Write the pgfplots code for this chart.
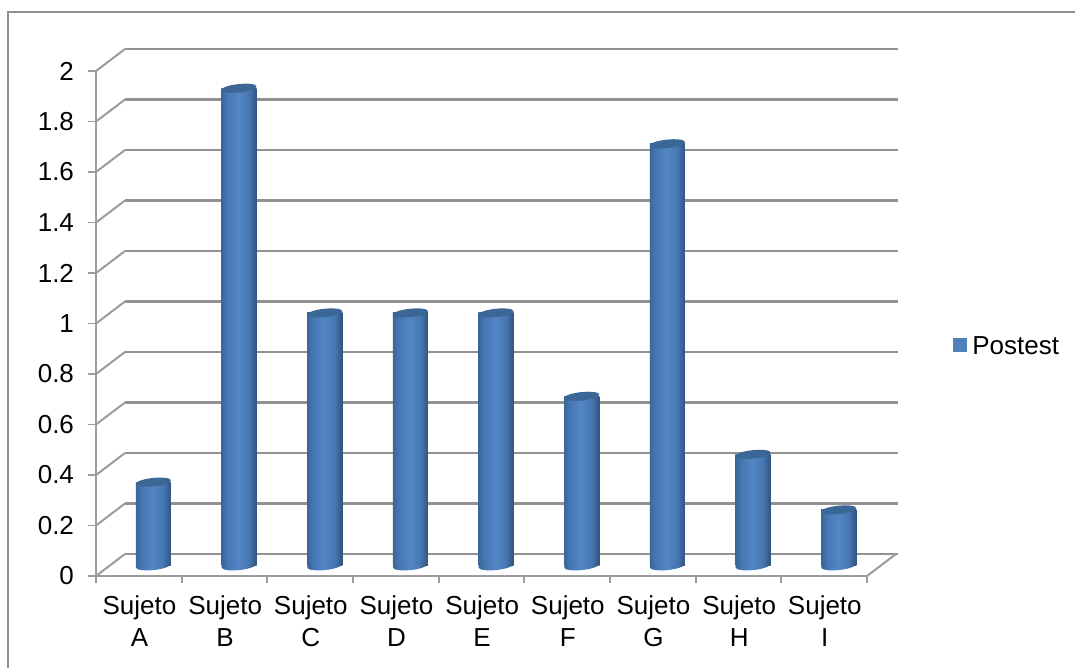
\documentclass[border=0pt]{standalone}
\usepackage{pgfplots}
\pgfplotsset{compat=1.18}
\usepackage{fontspec}
\setmainfont{Liberation Sans}
\definecolor{axisgray}{HTML}{9C9C9C}
\definecolor{gridgray}{HTML}{929292}
\definecolor{framegray}{HTML}{8F8F8F}
\definecolor{cyledgel}{HTML}{3A659A}
\definecolor{cyledger}{HTML}{31547C}
\definecolor{cylmid}{HTML}{4677B2}
\definecolor{cyllight}{HTML}{5386C6}
\definecolor{cyltop}{HTML}{3B6796}
\definecolor{legendblue}{HTML}{4F81BD}
\newdimen\pxu
\pxu=0.75pt
% Horizontal gradient across a cylinder
\pgfdeclarehorizontalshading{cylshade}{100bp}{
  color(0bp)=(cyledgel); color(25bp)=(cyledgel); color(33bp)=(cylmid);
  color(49bp)=(cyllight); color(64bp)=(cylmid); color(75bp)=(cyledger); color(100bp)=(cyledger)}
% Tilted elliptical caps of the cylinders
\pgfdeclareplotmark{cyltopcap}{%
  \pgfsetfillcolor{cyltop}%
  \pgftransformrotate{6}%
  \pgfpathellipse{\pgfpointorigin}{\pgfpoint{17.7\pxu}{0pt}}{\pgfpoint{0pt}{4.2\pxu}}%
  \pgfusepath{fill}}
\pgfdeclareplotmark{cylbasecap}{%
  \pgftransformrotate{6}%
  \pgfpathellipse{\pgfpointorigin}{\pgfpoint{17.7\pxu}{0pt}}{\pgfpoint{0pt}{4.6\pxu}}%
  \pgfshadepath{cylshade}{-6}%
  \pgfusepath{discard}}
% One cylinder body from the axis floor up to the score
\newcommand{\cylbody}[2]{%
  \addplot[forget plot,ybar,bar width=26.4pt,bar shift=0pt,draw=none,shade,shading=cylshade,
    xshift=10.9pt,yshift=7.9pt] coordinates {(#1,#2)};}
\begin{document}
\begin{tikzpicture}[x=1pt,y=1pt]
\path[use as bounding box] (-96*0.75,-92*0.75) rectangle (979*0.75,576*0.75);
\draw[framegray,line width=1.5pt] (-87.5*0.75,-92*0.75) -- (-87.5*0.75,564*0.75) -- (979*0.75,564*0.75);
\begin{axis}[
  at={(0,0)},anchor=south west,
  scale only axis,width=771*0.75pt,height=505*0.75pt,
  xmin=0,xmax=9,ymin=0,ymax=2,
  clip=false,
  axis x line*=bottom,axis y line*=left,
  axis line style={axisgray,line width=1.5pt},
  xtick={0.5,1.5,2.5,3.5,4.5,5.5,6.5,7.5,8.5},
  xticklabels={Sujeto\\A,Sujeto\\B,Sujeto\\C,Sujeto\\D,Sujeto\\E,Sujeto\\F,Sujeto\\G,Sujeto\\H,Sujeto\\I},
  xticklabel style={align=center,font=\fontsize{19.5}{24}\selectfont,yshift=-5pt,xshift=0.5pt},
  minor xtick={0,1,2,3,4,5,6,7,8,9},
  major x tick style={draw=none},
  minor x tick style={axisgray,line width=1.3pt},
  minor tick length=5.5pt,
  ytick={0,0.2,0.4,0.6,0.8,1,1.2,1.4,1.6,1.8,2},
  yticklabels={0,0.2,0.4,0.6,0.8,1,1.2,1.4,1.6,1.8,2},
  yticklabel style={font=\fontsize{19.5}{24}\selectfont,xshift=-7pt},
  y tick style={axisgray,line width=1.3pt},
  tick align=outside,
  major tick length=6pt,
  legend style={draw=none,fill=none,at={(axis cs:9.95,0.908)},anchor=west,
    font=\fontsize{19.5}{24}\selectfont},
]
% Floor and wall lines on the back plane, with their side returns
\pgfplotsinvokeforeach{0,0.2,0.4,0.6,0.8,1,1.2,1.4,1.6,1.8,2}{
  \addplot[forget plot,gridgray,line width=1.65pt,xshift=21.75pt,yshift=16.5pt]
    coordinates {(0,#1) (9.02,#1)};
  \addplot[forget plot,axisgray,line width=1.5pt]
    coordinates {(0,#1) (0.3385,#1+0.0871)};
}
\addplot[forget plot,axisgray,line width=1.5pt] coordinates {(9,0) (9.3385,0.0871)};
% Cylinder bases
\addplot[forget plot,only marks,mark=cylbasecap,xshift=10.9pt,yshift=7.9pt] coordinates {
 (0.5,0) (1.5,0) (2.5,0) (3.5,0) (4.5,0) (5.5,0) (6.5,0) (7.5,0) (8.5,0)};
% Cylinder bodies
\cylbody{0.5}{0.33}
\cylbody{1.5}{1.89}
\cylbody{2.5}{1}
\cylbody{3.5}{1}
\cylbody{4.5}{1}
\cylbody{5.5}{0.67}
\cylbody{6.5}{1.67}
\cylbody{7.5}{0.44}
\cylbody{8.5}{0.22}
% Cylinder tops
\addplot[forget plot,only marks,mark=cyltopcap,xshift=10.9pt,yshift=7.9pt] coordinates {
 (0.5,0.33) (1.5,1.89) (2.5,1) (3.5,1) (4.5,1) (5.5,0.67) (6.5,1.67) (7.5,0.44) (8.5,0.22)};
% Flat square key for the series
\addlegendimage{legend image code/.code={\fill[legendblue,draw=none] (0pt,-4.1pt) rectangle (10.5pt,6.4pt);
    \path[draw=none,fill=none] (0pt,0pt) -- (12.75pt,0pt);}}
\addlegendentry{Postest}
\end{axis}
\end{tikzpicture}
\end{document}
